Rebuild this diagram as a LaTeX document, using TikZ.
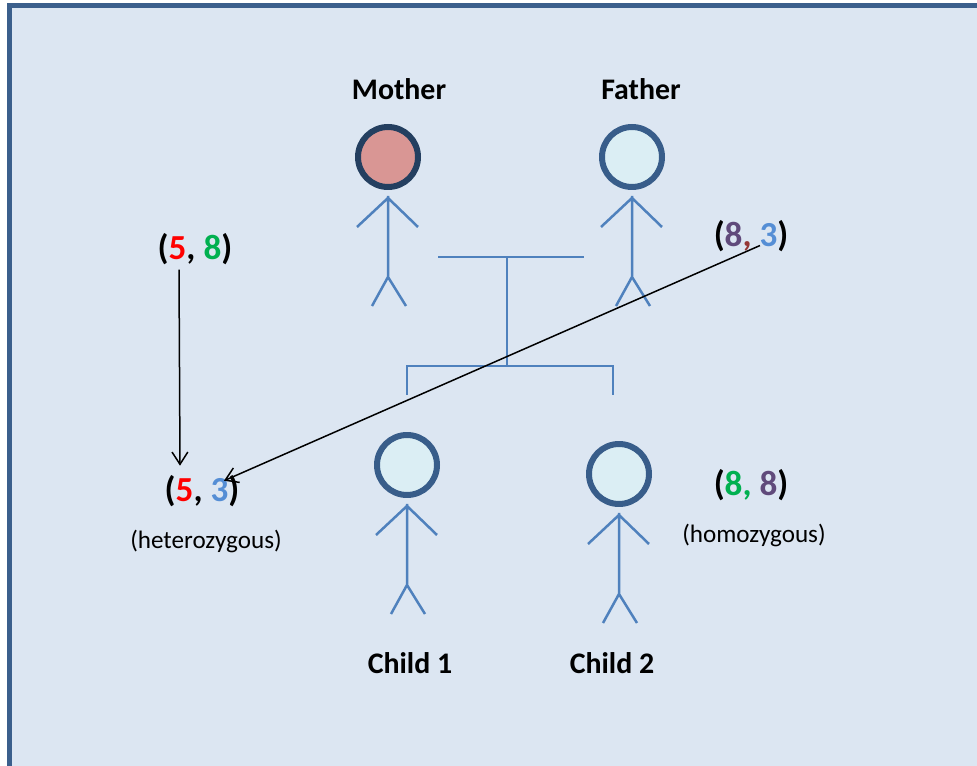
\documentclass[tikz,border=0pt]{standalone}
\usepackage{fontspec}
\setmainfont{Carlito}
\usetikzlibrary{arrows.meta,calc}
\definecolor{bg}{HTML}{DCE6F2}
\definecolor{frame}{HTML}{3B5F8C}
\definecolor{stick}{HTML}{4F81BD}
\definecolor{rim}{HTML}{385D8A}
\definecolor{rimdark}{HTML}{243F60}
\definecolor{pink}{HTML}{D99694}
\definecolor{pale}{HTML}{DBEEF4}
\definecolor{grn}{HTML}{00B050}
\definecolor{prp}{HTML}{604A7B}
\definecolor{blu}{HTML}{558ED5}
\definecolor{rust}{HTML}{953735}
\begin{document}
\begin{tikzpicture}
			[x=0.02cm,y=-0.02cm,
			head/.style={circle,draw=rim,fill=pale,line width=0.12cm,minimum size=1.2cm,inner sep=0pt},
			limb/.style={draw=stick,line width=0.05cm},
			who/.style={anchor=base,font=\fontsize{17}{20}\selectfont\bfseries},
			pair/.style={anchor=base,font=\fontsize{20}{24}\selectfont\bfseries},
			note/.style={anchor=base,font=\fontsize{14.3}{17}\selectfont}]
			\useasboundingbox (0,0) rectangle (977,766);
			\clip (0,0) rectangle (977,766);
			\draw[draw=frame,fill=bg,line width=0.1cm] (9.5,5.5) rectangle (1000,768);
			\node[head,draw=rimdark,fill=pink] (M) at (388,157) {};
			\node[head] (F) at (632,157) {};
			\node[head] (C1) at (407,465) {};
			\node[head] (C2) at (619,474) {};
			\foreach \p in {M,F,C1,C2}
			\draw[limb] ($(\p.south)+(0,6)$) -- ++(0,81) coordinate (hip) -- ++(-16,29) (hip) -- ++(18,29)
			($(\p.south)+(0,8)$) -- ++(-31,29) ($(\p.south)+(0,8)$) -- ++(30,29);
			\coordinate (J) at (507,257);
			\coordinate (K) at (507,366);
			\draw[limb] (438,257) -- (584,257) (J) -- (K) (407,395) |- (K) -| (613,395);
			\node[who] (LM) at (399,100) {Mother};
			\node[who] (LF) at (641,100) {Father};
			\node[who] (L1) at (410,673) {Child 1};
			\node[who] (L2) at (612,673) {Child 2};
			\node[pair] (p58) at (195,260) {(\textcolor{red}{5}, \textcolor{grn}{8})};
			\node[pair] (p83) at (751,247) {(\textcolor{prp}{8}\textcolor{rust}{,} \textcolor{blu}{3})};
			\node[pair] (p53) at (202,502) {(\textcolor{red}{5}, \textcolor{blu}{3})};
			\node[pair] (p88) at (751,496) {(\textcolor{grn}{8,} \textcolor{prp}{8})};
			\node[note] (h1) at (206,548) {(heterozygous)};
			\node[note] (h2) at (754,542) {(homozygous)};
			\path[-{Straight Barb[length=7pt,width=9pt]},line width=0.03cm]
			($(p58.south)+(-16,-2)$) edge ($(p53.north)+(-22,-4)$)
			($(p83.south)+(9,-13)$) edge ($(p53.north)+(22,11)$);
		\end{tikzpicture}
\end{document}
